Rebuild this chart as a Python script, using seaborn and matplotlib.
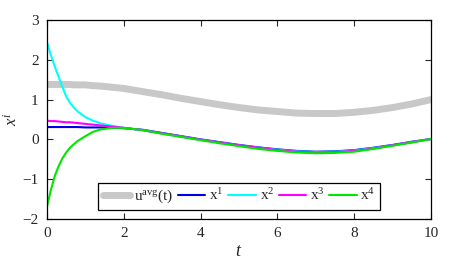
import matplotlib
matplotlib.use("Agg")
import matplotlib.pyplot as plt
import numpy as np
import pandas as pd
import seaborn as sns

# time samples (denser near t=0 where the transients are)
t = [0, 0.1, 0.2, 0.3, 0.4, 0.5, 0.6, 0.7, 0.8, 1.0, 1.2, 1.4, 1.7, 2.0,
     2.5, 3.0, 3.5, 4.0, 4.5, 5.0, 5.5, 6.0, 6.5, 7.0, 7.5, 8.0, 8.5, 9.0, 9.5, 10.0]

u_avg = [1.38, 1.38, 1.38, 1.38, 1.38, 1.38, 1.38, 1.37, 1.37, 1.37, 1.35, 1.34, 1.31, 1.28,
         1.20, 1.12, 1.03, 0.95, 0.87, 0.80, 0.74, 0.70, 0.66, 0.65, 0.65, 0.68, 0.73, 0.80, 0.89, 1.00]

x1 = [0.31, 0.31, 0.31, 0.31, 0.31, 0.31, 0.31, 0.31, 0.31, 0.30, 0.30, 0.30, 0.29, 0.28,
      0.24, 0.16, 0.08, 0.00, -0.07, -0.14, -0.20, -0.25, -0.29, -0.31, -0.30, -0.27, -0.21, -0.14, -0.06, 0.01]

x2 = [2.44, 2.12, 1.84, 1.58, 1.32, 1.08, 0.92, 0.80, 0.70, 0.56, 0.47, 0.40, 0.34, 0.29,
      0.23, 0.15, 0.07, -0.01, -0.08, -0.15, -0.21, -0.26, -0.30, -0.32, -0.31, -0.28, -0.22, -0.15, -0.07, 0.01]

x3 = [0.47, 0.46, 0.46, 0.45, 0.44, 0.43, 0.43, 0.42, 0.41, 0.39, 0.37, 0.35, 0.32, 0.29,
      0.23, 0.15, 0.07, -0.01, -0.08, -0.15, -0.21, -0.27, -0.31, -0.33, -0.32, -0.29, -0.23, -0.15, -0.07, 0.01]

x4 = [-1.69, -1.28, -0.93, -0.68, -0.48, -0.33, -0.21, -0.12, -0.04, 0.08, 0.19, 0.25, 0.29, 0.29,
      0.23, 0.14, 0.06, -0.02, -0.10, -0.17, -0.24, -0.29, -0.33, -0.35, -0.34, -0.31, -0.24, -0.16, -0.08, 0.01]

sns.set_style("ticks")
plt.rcParams['font.family'] = ['Liberation Serif', 'DejaVu Serif']
plt.rcParams['mathtext.fontset'] = 'custom'
plt.rcParams['mathtext.rm'] = 'Liberation Serif'
plt.rcParams['mathtext.it'] = 'Liberation Serif:italic'

fig = plt.figure(figsize=(4.68, 2.67), dpi=100)
ax = fig.add_axes([0.1004, 0.180, 0.8206, 0.745])

series = [
    (u_avg, r'$\mathrm{u^{avg}(t)}$', '#c8c8c8', 5.0),
    (x1, r'$\mathrm{x^{1}}$', '#0000e6', 1.5),
    (x2, r'$\mathrm{x^{2}}$', '#00ffff', 1.5),
    (x3, r'$\mathrm{x^{3}}$', '#ff00ff', 1.5),
    (x4, r'$\mathrm{x^{4}}$', '#00e600', 1.5),
]
for vals, lab, col, lw in series:
    sns.lineplot(x=t, y=vals, ax=ax, color=col, linewidth=lw, label=lab)

ax.set_xlim(0, 10)
ax.set_ylim(-2, 3)
ax.set_xticks([0, 2, 4, 6, 8, 10])
ax.set_yticks([-2, -1, 0, 1, 2, 3])
ax.tick_params(direction='in', top=True, right=True, labelsize=11, length=4, width=0.8, pad=6)
for s in ax.spines.values():
    s.set_linewidth(0.9)
    s.set_color('black')

ax.set_xlabel(r'$t$', fontsize=13, labelpad=2)
ax.set_ylabel(r'$x^{i}$', fontsize=12, labelpad=1)

leg = ax.legend(ncol=5, loc='lower left', bbox_to_anchor=(0.133, 0.045), fontsize=11,
                frameon=True, fancybox=False, edgecolor='black', framealpha=1,
                handlelength=1.8, handletextpad=0.25, columnspacing=0.3,
                borderpad=0.3, borderaxespad=0)
leg.get_frame().set_linewidth(0.9)

fig.savefig('out.png', dpi=100)
